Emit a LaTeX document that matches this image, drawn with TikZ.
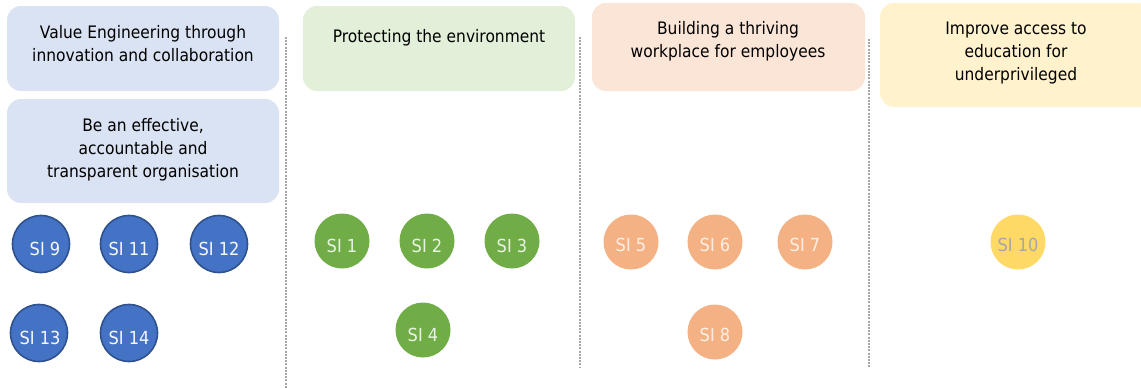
\documentclass[tikz,border=0pt]{standalone}
\usepackage{fontspec}
\setmainfont[FakeStretch=0.9]{DejaVu Sans}
\definecolor{bluebox}{HTML}{DAE3F3}
\definecolor{greenbox}{HTML}{E2F0D9}
\definecolor{peachbox}{HTML}{FBE5D6}
\definecolor{yellowbox}{HTML}{FFF2CC}
\definecolor{bluesi}{HTML}{4472C4}
\definecolor{bluesiedge}{HTML}{2F528F}
\definecolor{greensi}{HTML}{70AD47}
\definecolor{peachsi}{HTML}{F4B183}
\definecolor{yellowsi}{HTML}{FFD966}
\definecolor{sepgray}{HTML}{A6A6A6}
\begin{document}
\begin{tikzpicture}[x=1pt,y=-1pt,
  goalbox/.style={fill=#1, rounded corners=14pt},
  goaltext/.style={align=center, font=\fontsize{17.2}{23}\selectfont, text=black, inner sep=0pt},
  sinode/.style 2 args={circle, fill=#1, minimum size=#2, inner sep=0pt},
  silabel/.style={font=\fontsize{18}{20}\selectfont, text=#1, inner sep=0pt},
  sep/.style={draw=sepgray, line width=2.4pt, dash pattern=on 2pt off 1.2pt}]
\useasboundingbox (0,0) rectangle (1141,388);

% column separators
\coordinate (s1a) at (286,37);  \coordinate (s1b) at (286,388);
\coordinate (s2a) at (580,37);  \coordinate (s2b) at (580,368);
\coordinate (s3a) at (869,39);  \coordinate (s3b) at (869,367);
\draw[sep] (s1a) -- (s1b);
\draw[sep] (s2a) -- (s2b);
\draw[sep] (s3a) -- (s3b);

% goal boxes
\path[goalbox=bluebox]   (7,6)   rectangle (279,91);
\path[goalbox=bluebox]   (7,99)  rectangle (279,203);
\path[goalbox=greenbox]  (303,6) rectangle (575,91);
\path[goalbox=peachbox]  (592,3) rectangle (865,91);
\path[goalbox=yellowbox] (880,3) rectangle (1152,107);

\node[goaltext] (g1) at (143,43.5) {Value Engineering through\\innovation and collaboration};
\node[goaltext] (g2) at (143,150) {Be an effective,\\accountable and\\transparent organisation};
\node[goaltext] (g3) at (439,38) {Protecting the environment};
\node[goaltext] (g4) at (728,41.5) {Building a thriving\\workplace for employees};
\node[goaltext] (g5) at (1016,53.5) {Improve access to\\education for\\underprivileged};

% strategic initiatives: blue
\foreach \n/\x/\y/\dx in {9/41/244/4, 11/129/244/0, 12/219/244/0, 13/39/333/1, 14/129/333/0}{
  \node[sinode={bluesi}{57pt}, draw=bluesiedge, line width=1.6pt] (si\n) at (\x,\y) {};
  \node[silabel=white!95!bluesi] (t\n) at ([xshift=\dx pt,yshift=-5pt]si\n.center) {SI \n};
}
% green
\foreach \n/\x/\y in {1/342/241, 2/427/241, 3/512/241, 4/423/330}{
  \node[sinode={greensi}{55pt}] (si\n) at (\x,\y) {};
  \node[silabel=white!85!greensi] (t\n) at ([yshift=-5pt]si\n.center) {SI \n};
}
% peach
\foreach \n/\x/\y in {5/631/242, 6/715/242, 7/805/242, 8/715/332}{
  \node[sinode={peachsi}{55pt}] (si\n) at (\x,\y) {};
  \node[silabel=white!80!peachsi] (t\n) at ([yshift=-3pt]si\n.center) {SI \n};
}
% yellow
\node[sinode={yellowsi}{55pt}] (si10) at (1018,242) {};
\node[silabel=sepgray] (t10) at ([yshift=-3pt]si10.center) {SI 10};
\end{tikzpicture}
\end{document}
